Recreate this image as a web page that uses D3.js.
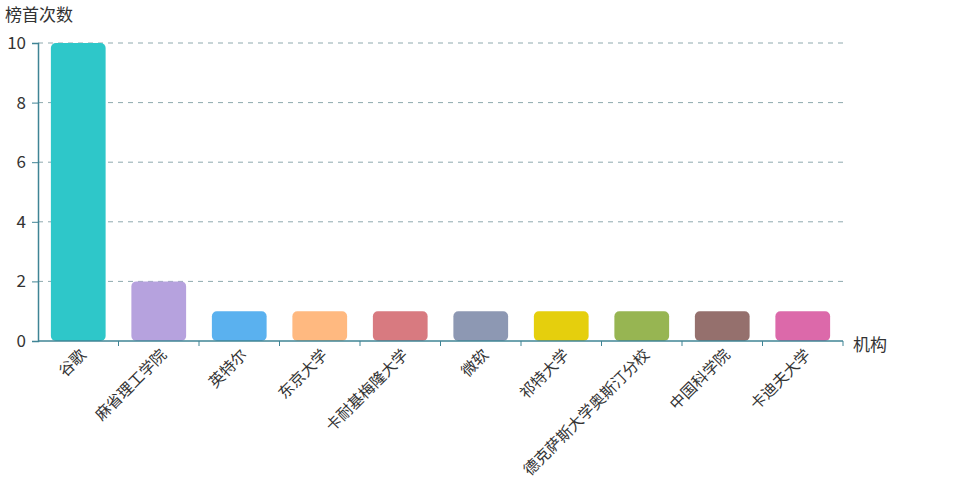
<!DOCTYPE html>
<html><head><meta charset="utf-8">
<script src="https://cdn.jsdelivr.net/npm/d3@7"></script>
<style>body{margin:0;background:#fff;}svg{display:block;font-family:"Noto Sans CJK SC","Noto Sans",sans-serif;}</style>
</head><body><svg id="c" width="980" height="480"></svg>
<script>
const categories = ["谷歌","麻省理工学院","英特尔","东京大学","卡耐基梅隆大学","微软","祁特大学","德克萨斯大学奥斯汀分校","中国科学院","卡迪夫大学"];
const values = [10,2,1,1,1,1,1,1,1,1];
const colors = ["#2ec7c9","#b6a2de","#5ab1ef","#ffb980","#d87a80","#8d98b3","#e5cf0d","#97b552","#95706d","#dc69aa"];
const yTicks = [0,2,4,6,8,10];
const yName = "榜首次数", xName = "机构";

const svg = d3.select("#c");
const L = 38, R = 843, T = 43, B = 341;
const axisColor = "#3f8495";
const x = d3.scaleBand().domain(categories).range([L, R]).paddingInner(0.32).paddingOuter(0.16);
const xb = d3.scaleBand().domain(categories).range([L, R]);
const y = d3.scaleLinear().domain([0, 10]).range([B, T]);

// grid
svg.append("g").selectAll("line").data(yTicks.filter(d => d > 0)).join("line")
  .attr("x1", L).attr("x2", R).attr("y1", d => y(d)).attr("y2", d => y(d))
  .attr("stroke", "#8fa9ae").attr("stroke-dasharray", "5,5").attr("stroke-width", 1);

// bars
svg.append("g").selectAll("rect").data(categories).join("rect")
  .attr("x", d => x(d)).attr("width", x.bandwidth())
  .attr("y", (d, i) => y(values[i])).attr("height", (d, i) => B - y(values[i]))
  .attr("rx", 5).attr("ry", 5)
  .attr("fill", (d, i) => colors[i]);

// y axis
const ya = svg.append("g").attr("transform", `translate(${L},0)`)
  .call(d3.axisLeft(y).tickValues(yTicks).tickSize(6).tickPadding(6));
ya.select(".domain").attr("stroke", axisColor).attr("stroke-width", 1.5);
ya.selectAll(".tick line").attr("stroke", axisColor);
ya.selectAll(".tick text").attr("fill", "#333").attr("font-size", 17)
  .attr("font-family", '"Noto Sans CJK SC",sans-serif');

// x axis
const xa = svg.append("g").attr("transform", `translate(0,${B})`);
xa.append("line").attr("x1", L).attr("x2", R).attr("stroke", axisColor).attr("stroke-width", 1.5);
xa.selectAll("line.t").data(categories).join("line").attr("class", "t")
  .attr("x1", d => xb(d) + xb.bandwidth()).attr("x2", d => xb(d) + xb.bandwidth())
  .attr("y1", 0).attr("y2", 5).attr("stroke", axisColor);
xa.selectAll("text").data(categories).join("text")
  .attr("transform", d => `translate(${xb(d) + xb.bandwidth() / 2 + 5},${11}) rotate(-45)`)
  .attr("text-anchor", "end").attr("dy", "0.35em")
  .attr("font-size", 15.5).attr("fill", "#333").text(d => d);

svg.append("text").attr("x", 5).attr("y", 21).attr("font-size", 17).attr("fill", "#333").text(yName);
svg.append("text").attr("x", 853).attr("y", 351).attr("font-size", 17).attr("fill", "#333").text(xName);
</script></body></html>
